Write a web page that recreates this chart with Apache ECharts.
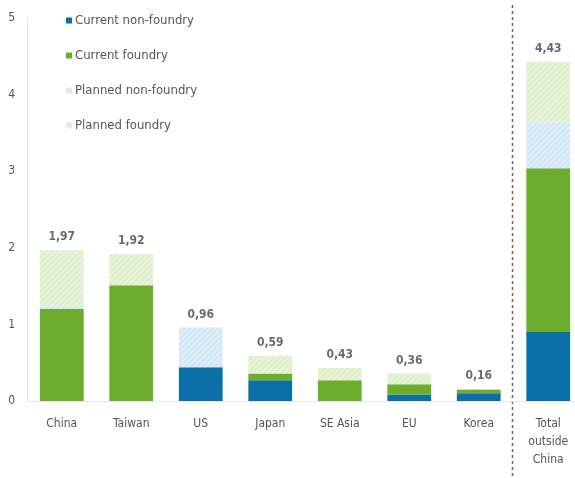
<!DOCTYPE html>
<html>
<head>
<meta charset="utf-8">
<script src="https://cdn.jsdelivr.net/npm/echarts@6/dist/echarts.min.js"></script>
<style>
  html, body { margin: 0; padding: 0; background: #fff; }
  #chart { width: 575px; height: 478px; }
</style>
</head>
<body>
<div id="chart"></div>
<script>
// Capacity by region, split into current / planned and foundry / non-foundry
const categories = ['China', 'Taiwan', 'US', 'Japan', 'SE Asia', 'EU', 'Korea', 'Total\noutside\nChina'];
const currentNonFoundry = [0.00, 0.00, 0.44, 0.27, 0.00, 0.08, 0.10, 0.90];
const currentFoundry    = [1.20, 1.51, 0.00, 0.09, 0.27, 0.14, 0.05, 2.14];
const plannedNonFoundry = [0.04, 0.00, 0.52, 0.00, 0.00, 0.00, 0.00, 0.60];
const plannedFoundry    = [0.73, 0.41, 0.00, 0.23, 0.16, 0.14, 0.01, 0.79];
const totals            = [1.97, 1.92, 0.96, 0.59, 0.43, 0.36, 0.16, 4.43];
const yTicks = [0, 1, 2, 3, 4, 5];

const FONT = '"Liberation Sans Narrow", "DejaVu Sans Condensed", "Open Sans", sans-serif';
const BLUE = '#0b6fa7';
const GREEN = '#6cad2d';
const LIGHT_BLUE = '#d3e8f7';
const LIGHT_GREEN = '#e0efcc';

const hatch = {
  symbol: 'rect',
  dashArrayX: [1, 0],
  dashArrayY: [1, 3],
  rotation: -Math.PI / 4,
  color: 'rgba(255,255,255,0.45)'
};

const chart = echarts.init(document.getElementById('chart'), null, { renderer: 'canvas' });

function barSeries(name, data, color, decal) {
  return {
    name: name,
    type: 'bar',
    stack: 'cap',
    barWidth: '63%',
    data: data,
    itemStyle: decal ? { color: color, decal: decal } : { color: color },
    emphasis: { disabled: true }
  };
}

chart.setOption({
  animation: false,
  aria: { enabled: false },
  textStyle: { fontFamily: FONT },
  grid: { left: 27, width: 556, top: 18, bottom: 77, containLabel: false, outerBoundsMode: 'none' },
  legend: {
    orient: 'vertical',
    left: 61,
    top: 9,
    itemWidth: 6,
    itemHeight: 6,
    itemGap: 22,
    icon: 'rect',
    textStyle: { fontFamily: FONT, fontSize: 13, color: '#555', padding: [0, 0, 0, -2] },
    data: ['Current non-foundry', 'Current foundry', 'Planned non-foundry', 'Planned foundry']
  },
  xAxis: {
    type: 'category',
    data: categories,
    axisLine: { lineStyle: { color: '#e6e6e6', width: 1 } },
    axisTick: { show: false },
    axisLabel: { color: '#555', fontSize: 12, fontFamily: FONT, margin: 14, lineHeight: 18, interval: 0 }
  },
  yAxis: {
    type: 'value',
    min: yTicks[0],
    max: yTicks[yTicks.length - 1],
    interval: 1,
    splitLine: { show: false },
    axisLine: { show: true, lineStyle: { color: '#e3e3e3', width: 1 } },
    axisTick: { show: false },
    axisLabel: { color: '#555', fontSize: 12, fontFamily: FONT, margin: 12 }
  },
  series: [
    barSeries('Current non-foundry', currentNonFoundry, BLUE),
    barSeries('Current foundry', currentFoundry, GREEN),
    barSeries('Planned non-foundry', plannedNonFoundry, LIGHT_BLUE, hatch),
    barSeries('Planned foundry', plannedFoundry, LIGHT_GREEN, hatch),
    {
      name: 'Total',
      type: 'scatter',
      data: totals,
      symbolSize: 0,
      silent: true,
      label: {
        show: true,
        position: 'top',
        distance: 7,
        color: '#444',
        fontWeight: 'bold',
        fontSize: 12,
        fontFamily: FONT,
        formatter: p => p.value.toFixed(2).replace('.', ',')
      }
    }
  ]
});

// Dashed divider between the regional bars and the total bar
const xKorea = chart.convertToPixel({ xAxisIndex: 0 }, 6);
const xTotal = chart.convertToPixel({ xAxisIndex: 0 }, 7);
const xDiv = Math.round((xKorea + xTotal) / 2) - 1.5;
chart.setOption({
  graphic: [{
    type: 'line',
    shape: { x1: xDiv, y1: 5, x2: xDiv, y2: 478 },
    style: { stroke: '#666', lineWidth: 1.5, lineDash: [3, 3] },
    silent: true
  }]
});
</script>
</body>
</html>
